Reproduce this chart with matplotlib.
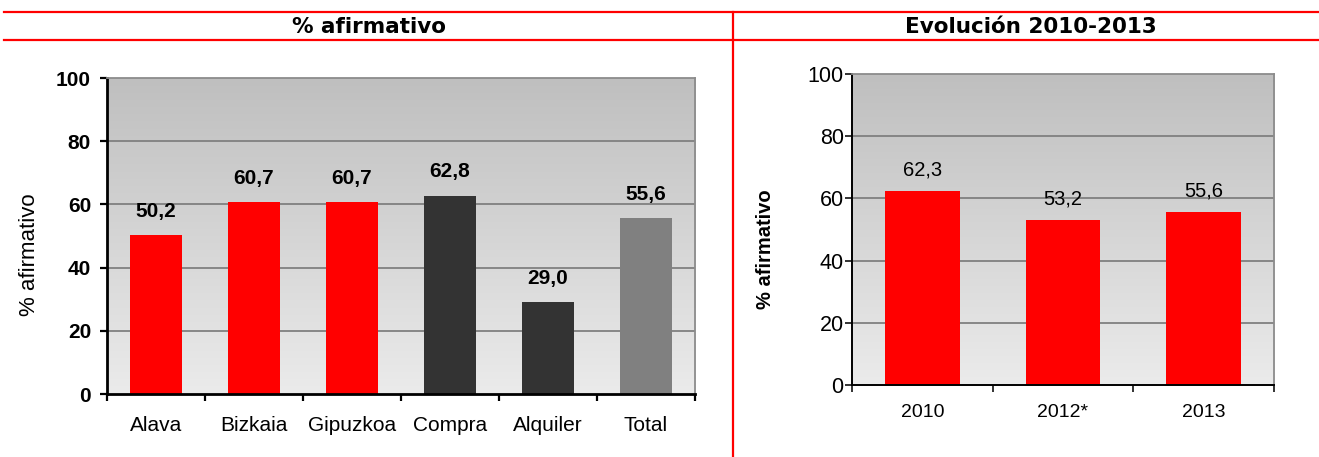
import numpy as np
import matplotlib
matplotlib.use("Agg")
import matplotlib.pyplot as plt
from matplotlib.lines import Line2D
from matplotlib.colors import LinearSegmentedColormap

# Data
left_categories = ["Alava", "Bizkaia", "Gipuzkoa", "Compra", "Alquiler", "Total"]
left_values = [50.2, 60.7, 60.7, 62.8, 29.0, 55.6]
left_colors = ["#ff0000", "#ff0000", "#ff0000", "#333333", "#333333", "#808080"]

right_categories = ["2010", "2012*", "2013"]
right_values = [62.3, 53.2, 55.6]
right_colors = ["#ff0000", "#ff0000", "#ff0000"]

y_ticks = [0, 20, 40, 60, 80, 100]

header_left = "% afirmativo"
header_right = "Evolución 2010-2013"
y_label = "% afirmativo"

W, H = 1319, 457
fig = plt.figure(figsize=(W / 100, H / 100), dpi=100)
plt.rcParams["font.family"] = ["Liberation Sans", "DejaVu Sans"]

bg_cmap = LinearSegmentedColormap.from_list("bg", ["#ebebeb", "#bfbfbf"])


def px_axes(x0, y0, x1, y1):
    return fig.add_axes([x0 / W, 1 - y1 / H, (x1 - x0) / W, (y1 - y0) / H])


def fmt(v):
    return f"{v:.1f}".replace(".", ",")


def draw_panel(ax, cats, vals, colors, bold, tick_fs, val_fs, cat_fs,
               spine_w, tick_len, ytick_pad, xlab_pad, val_gap):
    n = len(cats)
    x = np.arange(n)
    ax.set_xlim(-0.5, n - 0.5)
    ax.set_ylim(0, 100)
    # gradient plot area
    grad = np.linspace(0, 1, 256).reshape(-1, 1)
    ax.imshow(grad, cmap=bg_cmap, aspect="auto", origin="lower",
              extent=(-0.5, n - 0.5, 0, 100), zorder=0)
    for g in y_ticks[1:-1]:
        ax.axhline(g, color="#808080", lw=1.3, zorder=1)
    ax.bar(x, vals, width=0.53, color=colors, zorder=2)
    weight = "bold" if bold else "normal"
    for xi, v in zip(x, vals):
        ax.annotate(fmt(v), (xi, v), xytext=(0, val_gap), textcoords="offset points",
                    ha="center", va="baseline", fontsize=val_fs,
                    fontweight=weight, color="black", zorder=3)
    # spines
    for s in ("top", "right"):
        ax.spines[s].set_color("#8c8c8c")
        ax.spines[s].set_linewidth(1.3)
    for s in ("left", "bottom"):
        ax.spines[s].set_color("black")
        ax.spines[s].set_linewidth(spine_w)
    ax.set_yticks(y_ticks)
    ax.set_yticklabels([str(t) for t in y_ticks], fontsize=tick_fs, fontweight=weight)
    ax.tick_params(axis="y", length=tick_len, width=spine_w * 0.8, pad=ytick_pad,
                   direction="out", right=False)
    ax.set_xticks(np.arange(n + 1) - 0.5)
    ax.set_xticklabels([])
    ax.tick_params(axis="x", which="major", length=tick_len, width=spine_w * 0.8,
                   direction="out", top=False)
    ax.set_xticks(x, minor=True)
    ax.set_xticklabels(cats, minor=True, fontsize=cat_fs)
    ax.tick_params(axis="x", which="minor", length=0, pad=xlab_pad)


ax1 = px_axes(107, 78, 695, 394)
draw_panel(ax1, left_categories, left_values, left_colors, bold=True,
           tick_fs=15, val_fs=15, cat_fs=15, spine_w=2.0, tick_len=5,
           ytick_pad=6.5, xlab_pad=16, val_gap=13)
ax1.set_ylabel(y_label, fontsize=16)
ax1.yaxis.set_label_coords((40 - 107) / 588, (394 - 255) / 316)

ax2 = px_axes(852, 74, 1274, 385)
draw_panel(ax2, right_categories, right_values, right_colors, bold=False,
           tick_fs=15.5, val_fs=14.5, cat_fs=14, spine_w=1.4, tick_len=5,
           ytick_pad=1, xlab_pad=13.5, val_gap=11)
ax2.set_ylabel(y_label, fontsize=14.5, fontweight="bold")
ax2.yaxis.set_label_coords((775 - 852) / 422, (385 - 249) / 311)

# header rules
red = "#ff0000"
fig.add_artist(Line2D([4 / W, 1], [1 - 12 / H, 1 - 12 / H], color=red, lw=1.6,
                      transform=fig.transFigure))
fig.add_artist(Line2D([4 / W, 1], [1 - 40 / H, 1 - 40 / H], color=red, lw=1.6,
                      transform=fig.transFigure))
fig.add_artist(Line2D([733 / W, 733 / W], [1 - 12 / H, 0], color=red, lw=1.6,
                      transform=fig.transFigure))

fig.text(369 / W, 1 - 27 / H, header_left, ha="center", va="center",
         fontsize=15.5, fontweight="bold", family="DejaVu Sans")
fig.text(1031 / W, 1 - 27 / H, header_right, ha="center", va="center",
         fontsize=15.5, fontweight="bold", family="DejaVu Sans")

fig.savefig("out.png", dpi=100)
